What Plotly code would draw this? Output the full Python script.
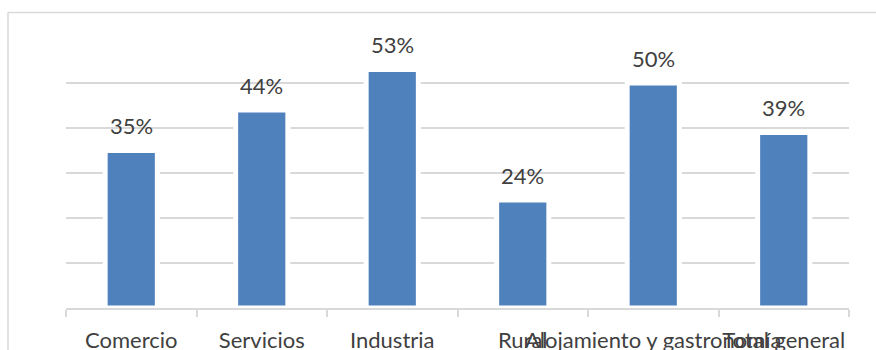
import plotly.graph_objects as go

# Share of firms per sector (%)
sectors = ["Comercio", "Servicios", "Industria", "Rural", "Alojamiento y gastronomía", "Total general"]
shares = [35, 44, 53, 24, 50, 39]
share_labels = [f"{v}%" for v in shares]

BAR_BLUE = "#4F81BD"
GRID = "#D9D9D9"
TEXT = "#404040"
FONT = "Lato"

fig = go.Figure()
fig.add_trace(go.Bar(
    x=sectors,
    y=shares,
    marker=dict(color=BAR_BLUE, line=dict(color="white", width=5)),
    hoverinfo="x+y",
))

# value labels above each bar
for cat, val, lab in zip(sectors, shares, share_labels):
    fig.add_annotation(
        x=cat, y=val, text=lab, showarrow=False,
        yanchor="middle", yshift=25,
        font=dict(family=FONT, size=22, color=TEXT),
    )

# outer chart frame (top and left edges)
fig.add_shape(type="line", xref="paper", yref="paper",
              x0=-58 / 783, x1=1.1, y0=1 + 25.5 / 270, y1=1 + 25.5 / 270,
              line=dict(color=GRID, width=1.5))
fig.add_shape(type="line", xref="paper", yref="paper",
              x0=-58 / 783, x1=-58 / 783, y0=-0.2, y1=1 + 25.5 / 270,
              line=dict(color=GRID, width=1.5))

fig.update_layout(
    width=876, height=350,
    margin=dict(l=66, r=27, t=38, b=42),
    paper_bgcolor="white", plot_bgcolor="white",
    bargap=0.6,
    showlegend=False,
    font=dict(family=FONT, size=22, color=TEXT),
)
fig.update_xaxes(
    type="category",
    tickangle=0,
    showline=True, linecolor=GRID, linewidth=1.5,
    ticks="outside", tickson="boundaries", ticklen=7, tickcolor=GRID, tickwidth=1.5,
    ticklabelstandoff=12,
    showgrid=False,
    tickfont=dict(family=FONT, size=22, color=TEXT),
    automargin=False,
)
fig.update_yaxes(
    range=[0, 60], tickvals=[10, 20, 30, 40, 50, 60],
    showticklabels=False, showgrid=True, gridcolor=GRID, gridwidth=1.5,
    zeroline=False, automargin=False,
)

fig.write_html("out.html")
